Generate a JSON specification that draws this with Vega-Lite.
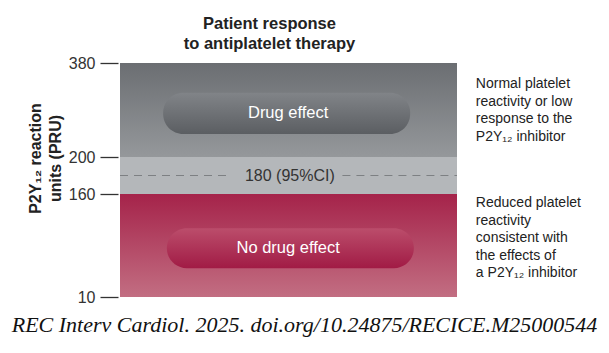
{
  "$schema": "https://vega.github.io/schema/vega-lite/v6.json",
  "width": 337,
  "height": 234,
  "autosize": {"type": "none"},
  "padding": {"left": 120, "top": 63, "right": 152, "bottom": 56},
  "background": "white",
  "config": {"view": {"stroke": null}, "font": "Liberation Sans"},
  "title": {
    "text": "REC Interv Cardiol. 2025. doi.org/10.24875/RECICE.M25000544",
    "orient": "bottom",
    "anchor": "middle",
    "dx": 16,
    "offset": 10,
    "font": "Liberation Serif",
    "fontStyle": "italic",
    "fontWeight": "normal",
    "fontSize": 22,
    "color": "#111111"
  },
  "layer": [
    {
      "data": {"values": [{"band": "upper", "x0": 0, "x1": 100, "lo": 200, "hi": 380}]},
      "mark": {
        "type": "rect",
        "fill": {"gradient": "linear", "x1": 0, "y1": 0, "x2": 0, "y2": 1,
          "stops": [{"offset": 0, "color": "#6b6e72"}, {"offset": 1, "color": "#95989b"}]}
      },
      "encoding": {
        "x": {"field": "x0", "type": "quantitative",
          "scale": {"domain": [0, 100], "nice": false, "zero": false},
          "axis": {"orient": "top", "labels": false, "ticks": false, "domain": false, "grid": false,
            "title": ["Patient response", "to antiplatelet therapy"],
            "titleFontSize": 16.5, "titleFontWeight": "bold", "titleColor": "#222222", "titleFont": "Liberation Sans",
            "titleLineHeight": 20, "titlePadding": 12, "titleX": 149}},
        "x2": {"field": "x1"},
        "y": {"field": "lo", "type": "quantitative",
          "scale": {"domain": [10, 160, 200, 380], "range": [234, 131, 94, 0], "nice": false, "zero": false},
          "axis": {"values": [10, 160, 200, 380], "ticks": true, "tickSize": 18, "tickColor": "#333333", "tickWidth": 1.3, "tickOpacity": 1,
            "offset": 2, "labelPadding": 5, "labelFontSize": 16, "labelFont": "Liberation Sans", "labelColor": "#333333",
            "domain": false, "grid": false,
            "title": ["P2Y₁₂ reaction", "units (PRU)"],
            "titleFont": "Liberation Sans",
            "titleFontSize": 16, "titleFontWeight": "bold", "titleColor": "#222222",
            "titleLineHeight": 20, "titleAngle": -90, "titleAlign": "center", "titleBaseline": "middle",
            "titleX": -83, "titleY": 95}},
        "y2": {"field": "hi"}
      }
    },
    {
      "data": {"values": [{"band": "middle", "x0": 0, "x1": 100, "lo": 160, "hi": 200}]},
      "mark": {"type": "rect", "fill": "#b4b7ba"},
      "encoding": {
        "x": {"field": "x0", "type": "quantitative"},
        "x2": {"field": "x1"},
        "y": {"field": "lo", "type": "quantitative"},
        "y2": {"field": "hi"}
      }
    },
    {
      "data": {"values": [{"band": "lower", "x0": 0, "x1": 100, "lo": 10, "hi": 160}]},
      "mark": {
        "type": "rect",
        "fill": {"gradient": "linear", "x1": 0, "y1": 0, "x2": 0, "y2": 1,
          "stops": [{"offset": 0, "color": "#a5234a"}, {"offset": 1, "color": "#c26e82"}]}
      },
      "encoding": {
        "x": {"field": "x0", "type": "quantitative"},
        "x2": {"field": "x1"},
        "y": {"field": "lo", "type": "quantitative"},
        "y2": {"field": "hi"}
      }
    },
    {
      "data": {"values": [{"x0": 0, "x1": 32, "y": 180}, {"x0": 66, "x1": 100, "y": 180}]},
      "mark": {"type": "rule", "stroke": "#7d8083", "strokeWidth": 1.2, "strokeDash": [8, 6]},
      "encoding": {
        "x": {"field": "x0", "type": "quantitative"},
        "x2": {"field": "x1"},
        "y": {"field": "y", "type": "quantitative"}
      }
    },
    {
      "data": {"values": [{"x": 50.4, "y": 180, "label": "180 (95%CI)"}]},
      "mark": {"type": "text", "fontSize": 16, "color": "#333333", "baseline": "middle", "align": "center"},
      "encoding": {
        "x": {"field": "x", "type": "quantitative"},
        "y": {"field": "y", "type": "quantitative"},
        "text": {"field": "label"}
      }
    },
    {
      "data": {"values": [{"x0": 12.8, "x1": 86.1, "lo": 244, "hi": 323}]},
      "mark": {
        "type": "rect", "cornerRadius": 20,
        "fill": {"gradient": "linear", "x1": 0, "y1": 0, "x2": 0, "y2": 1,
          "stops": [{"offset": 0, "color": "#818488"}, {"offset": 1, "color": "#5b5e62"}]}
      },
      "encoding": {
        "x": {"field": "x0", "type": "quantitative"},
        "x2": {"field": "x1"},
        "y": {"field": "lo", "type": "quantitative"},
        "y2": {"field": "hi"}
      }
    },
    {
      "data": {"values": [{"x0": 13.9, "x1": 87.2, "lo": 52, "hi": 110}]},
      "mark": {
        "type": "rect", "cornerRadius": 20,
        "fill": {"gradient": "linear", "x1": 0, "y1": 0, "x2": 0, "y2": 1,
          "stops": [{"offset": 0, "color": "#bb4d6b"}, {"offset": 1, "color": "#a11b45"}]}
      },
      "encoding": {
        "x": {"field": "x0", "type": "quantitative"},
        "x2": {"field": "x1"},
        "y": {"field": "lo", "type": "quantitative"},
        "y2": {"field": "hi"}
      }
    },
    {
      "data": {"values": [{"x": 49.9, "y": 283.5, "label": "Drug effect"}, {"x": 49.9, "y": 81, "label": "No drug effect"}]},
      "mark": {"type": "text", "fontSize": 16.5, "color": "white", "baseline": "middle", "align": "center"},
      "encoding": {
        "x": {"field": "x", "type": "quantitative"},
        "y": {"field": "y", "type": "quantitative"},
        "text": {"field": "label"}
      }
    },
    {
      "data": {"values": [
        {"x": 105.6, "y": 332, "label": "Normal platelet\nreactivity or low\nresponse to the\nP2Y₁₂ inhibitor"},
        {"x": 105.6, "y": 141, "label": "Reduced platelet\nreactivity\nconsistent with\nthe effects of\na P2Y₁₂ inhibitor"}
      ]},
      "mark": {"type": "text", "fontSize": 14, "color": "#222222", "baseline": "alphabetic", "align": "left", "lineBreak": "\n", "lineHeight": 17.5},
      "encoding": {
        "x": {"field": "x", "type": "quantitative"},
        "y": {"field": "y", "type": "quantitative"},
        "text": {"field": "label"}
      }
    }
  ]
}
